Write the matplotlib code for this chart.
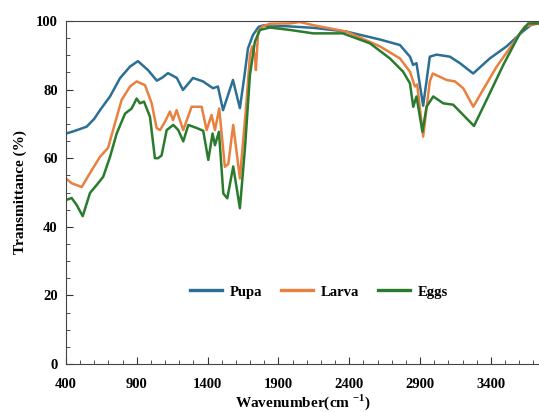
import numpy as np
import matplotlib
matplotlib.use("Agg")
import matplotlib.pyplot as plt
from matplotlib.ticker import MultipleLocator

# spectra (wavenumber in cm-1, transmittance in %)
pupa_wn = [400, 450, 499, 546, 600, 640, 711, 781, 852, 908, 979, 1042, 1080, 1120,
           1183, 1226, 1297, 1367, 1438, 1473, 1509, 1579, 1628, 1660, 1685, 1720,
           1760, 1800, 1840, 1950, 2150, 2382, 2617, 2758, 2829, 2851, 2875, 2922,
           2969, 3017, 3111, 3182, 3275, 3393, 3511, 3627, 3697, 3740]
pupa_t = [67.2, 67.8, 68.5, 69.2, 71.5, 74.0, 78.0, 83.3, 86.7, 88.3, 85.7, 82.6,
          83.5, 84.8, 83.4, 79.9, 83.4, 82.4, 80.4, 80.9, 74.0, 82.8, 74.6, 84.0,
          92.0, 95.9, 98.3, 98.8, 98.4, 98.5, 98.0, 96.9, 94.6, 93.0, 89.6, 87.2,
          87.7, 75.3, 89.6, 90.2, 89.6, 87.7, 84.7, 89.1, 92.6, 97.0, 99.3, 99.3]

larva_wn = [400, 440, 511, 570, 640, 697, 746, 793, 852, 899, 958, 1005, 1040, 1064,
            1099, 1134, 1156, 1181, 1228, 1287, 1358, 1393, 1428, 1452, 1482, 1522,
            1546, 1581, 1628, 1675, 1699, 1715, 1734, 1741, 1757, 1791, 1840, 1981,
            2050, 2145, 2382, 2617, 2758, 2829, 2864, 2880, 2922, 2969, 2990, 3088,
            3146, 3205, 3276, 3323, 3441, 3558, 3640, 3740]
larva_t = [54.1, 52.7, 51.6, 55.7, 60.4, 63.0, 70.2, 77.0, 80.9, 82.4, 81.3, 76.0,
           68.8, 68.2, 70.6, 73.6, 71.1, 74.0, 68.2, 75.0, 75.0, 68.2, 72.6, 68.2,
           74.5, 57.5, 58.3, 69.7, 54.1, 76.5, 90.0, 92.6, 90.0, 85.7, 97.0, 98.5,
           99.2, 99.3, 99.7, 98.8, 96.9, 92.6, 89.1, 85.2, 80.9, 81.5, 66.3, 82.4,
           84.7, 82.8, 82.4, 80.4, 75.0, 78.4, 86.7, 93.5, 98.4, 99.3]

eggs_wn = [400, 440, 475, 518, 570, 617, 663, 711, 758, 817, 864, 899, 922, 951, 993,
           1028, 1050, 1075, 1111, 1158, 1193, 1228, 1264, 1323, 1369, 1405, 1435,
           1452, 1480, 1511, 1539, 1581, 1628, 1664, 1699, 1734, 1770, 1840, 1981,
           2145, 2355, 2546, 2687, 2781, 2829, 2852, 2875, 2917, 2946, 2993, 3064,
           3134, 3205, 3281, 3370, 3488, 3605, 3664, 3740]
eggs_t = [47.8, 48.4, 46.4, 43.1, 49.9, 52.2, 54.6, 60.4, 67.2, 73.0, 74.5, 77.4,
          76.0, 76.5, 72.1, 60.0, 60.0, 60.8, 68.2, 69.7, 68.2, 64.9, 69.7, 68.8,
          68.0, 59.5, 67.2, 63.8, 67.7, 49.7, 48.3, 57.6, 45.4, 63.0, 84.3, 94.0,
          97.4, 98.1, 97.4, 96.4, 96.4, 93.5, 89.1, 85.2, 81.8, 75.0, 78.0, 67.7,
          75.0, 78.0, 76.0, 75.6, 72.6, 69.4, 77.0, 87.2, 96.4, 99.3, 99.3]

xticks = [400, 900, 1400, 1900, 2400, 2900, 3400]

series = [("Pupa", pupa_wn, pupa_t, "#2b6f94"),
          ("Larva", larva_wn, larva_t, "#e8803f"),
          ("Eggs", eggs_wn, eggs_t, "#2a7b2e")]

plt.rcParams["font.family"] = "Liberation Serif"
plt.rcParams["font.weight"] = "bold"
plt.rcParams["mathtext.fontset"] = "custom"
plt.rcParams["mathtext.rm"] = "Liberation Serif:bold"
plt.rcParams["mathtext.bf"] = "Liberation Serif:bold"

fig = plt.figure(figsize=(5.39, 4.12), dpi=100)
ax = fig.add_axes([0.1224, 0.1165, 0.8776, 0.8325])

for name, wn, t, c in series:
    ax.plot(wn, t, color=c, lw=1.8, label=name)

ax.set_xlim(400, 3740)
ax.set_ylim(0, 100)
ax.set_xticks(xticks)
ax.xaxis.set_minor_locator(MultipleLocator(100))
ax.yaxis.set_major_locator(MultipleLocator(20))
ax.yaxis.set_minor_locator(MultipleLocator(5))
ax.tick_params(which="both", direction="in", labelsize=10.5, color="#333333")
ax.tick_params(which="major", length=5)
ax.tick_params(which="minor", length=3)
ax.tick_params(axis="x", which="major", pad=10)
ax.tick_params(axis="y", which="major", pad=6)
ax.spines["right"].set_visible(False)
for s in ["left", "bottom", "top"]:
    ax.spines[s].set_color("#444444")
for lbl in ax.get_xticklabels() + ax.get_yticklabels():
    lbl.set_fontweight("bold")

ax.set_xlabel(r"Wavenumber(cm $^{-1}$)", fontsize=11, fontweight="bold", labelpad=1)
ax.set_ylabel("Transmittance (%)", fontsize=11, fontweight="bold", labelpad=6)

leg = ax.legend(loc="center", bbox_to_anchor=(0.535, 0.21), ncol=3, frameon=False,
                fontsize=10.5, handlelength=2.2, columnspacing=1.25, handletextpad=0.55)
for line in leg.get_lines():
    line.set_linewidth(2.4)
for txt in leg.get_texts():
    txt.set_fontweight("bold")

fig.savefig("out.png", dpi=100)
